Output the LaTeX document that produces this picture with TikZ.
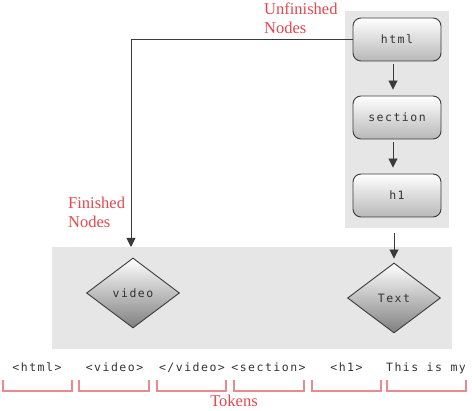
\documentclass[tikz,border=0pt]{standalone}
\usepackage{fontspec}
\setmainfont{Liberation Serif}
\newfontfamily\codefont[LetterSpace=13]{DejaVu Sans Mono}
\usetikzlibrary{shapes.geometric,arrows.meta}
\definecolor{labred}{HTML}{E5474E}
\definecolor{brkred}{HTML}{E98A8E}
\definecolor{panel}{HTML}{E6E6E6}
\definecolor{edge}{HTML}{3A3A3A}
\tikzset{
  codef/.style={font=\codefont\fontsize{11.5}{13}\selectfont, text=black!80},
  stackbox/.style={draw=edge, line width=0.9pt, rounded corners=8pt, minimum width=88pt, minimum height=43pt, top color=white, bottom color=black!28, inner sep=0pt, codef},
  donebox/.style={diamond, draw=edge, line width=0.9pt, minimum width=93pt, minimum height=70pt, aspect=1.33, inner sep=0pt, top color=white, bottom color=black!50, codef},
  arr/.style={draw=edge, line width=0.9pt, -{Triangle[width=9pt,length=9pt]}},
  lab/.style={text=labred, font=\fontsize{16.5}{19}\selectfont, align=left, inner sep=0pt},
  tok/.style={codef, anchor=base, inner sep=0pt},
  brk/.style={draw=brkred, line width=1.1pt}
}
\begin{document}
\begin{tikzpicture}[x=1pt,y=-1pt]
\useasboundingbox (0,0) rectangle (472,411);
% panels
\fill[panel] (345,11) rectangle (449,228);
\fill[panel] (52,247) rectangle (452,349);
% stack nodes
\node[stackbox] (html) at (397,39.5) {html};
\node[stackbox] (sec) at (397,117.5) {section};
\node[stackbox] (h1) at (397,195.5) {h1};
% finished nodes
\node[donebox] (vid) at (133,293) {video};
\node[donebox] (txt) at (394,298) {Text};
% connectors
\draw[arr, shorten <=3pt, shorten >=6pt] ([xshift=-4pt]html.south) -- ([xshift=-4pt]sec.north);
\draw[arr, shorten <=3pt, shorten >=6pt] ([xshift=-4pt]sec.south) -- ([xshift=-4pt]h1.north);
\draw[arr, shorten <=16pt, shorten >=4pt] (txt.north |- h1.south) -- (txt.north);
\coordinate (vtip) at (131,247);
\draw[arr] (html.west) -| (vtip);
% labels
\node[lab, anchor=base west] (unf) at (264,34) {Unfinished\\Nodes};
\node[lab, anchor=base west] (fin) at (68,228) {Finished\\Nodes};
% tokens
\node[tok] (t1) at (37,372) {<html>};
\node[tok] (t2) at (114.5,372) {<video>};
\node[tok] (t3) at (192,372) {</video>};
\node[tok] (t4) at (268.5,372) {<section>};
\node[tok] (t5) at (346.5,372) {<h1>};
\node[tok] (t6) at (426,372) {This is my};
\draw[brk] (3,380) -- (3,391) -- (72,391) -- (72,380);
\draw[brk] (79,380) -- (79,391) -- (149,391) -- (149,380);
\draw[brk] (157,380) -- (157,391) -- (226,391) -- (226,380);
\draw[brk] (234,380) -- (234,391) -- (304,391) -- (304,380);
\draw[brk] (312,380) -- (312,391) -- (381,391) -- (381,380);
\draw[brk] (387,380) -- (387,391) -- (466,391) -- (466,380);
\node[lab, anchor=base] (tokens) at (234,407) {Tokens};
\end{tikzpicture}
\end{document}
